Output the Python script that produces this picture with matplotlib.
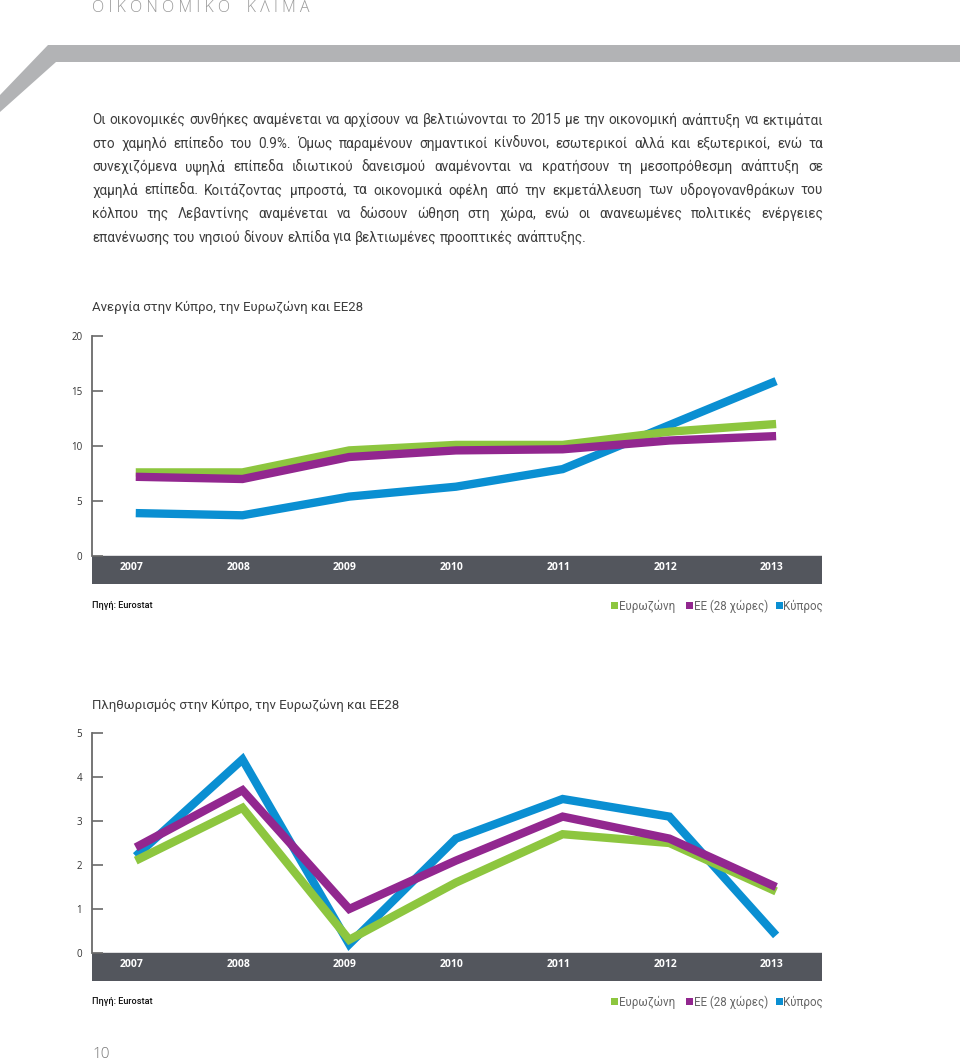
import matplotlib
matplotlib.use("Agg")
import matplotlib.pyplot as plt
from matplotlib.patches import Polygon, Rectangle

# ---------------- data ----------------
years = ['2007', '2008', '2009', '2010', '2011', '2012', '2013']
series_names = ['Ευρωζώνη', 'ΕΕ (28 χώρες)', 'Κύπρος']

unemp_ez = [7.6, 7.6, 9.6, 10.1, 10.1, 11.3, 12.0]
unemp_eu = [7.2, 7.0, 9.0, 9.6, 9.7, 10.5, 10.9]
unemp_cy = [3.9, 3.7, 5.4, 6.3, 7.9, 11.9, 15.9]

infl_ez = [2.1, 3.3, 0.3, 1.6, 2.7, 2.5, 1.4]
infl_eu = [2.4, 3.7, 1.0, 2.1, 3.1, 2.6, 1.5]
infl_cy = [2.2, 4.4, 0.2, 2.6, 3.5, 3.1, 0.4]

unemp_ticks = [0, 5, 10, 15, 20]
infl_ticks = [0, 1, 2, 3, 4, 5]

header = 'Ο Ι Κ Ο Ν Ο Μ Ι Κ Ο    Κ Λ Ι Μ Α'
paragraph = [
    'Οι οικονομικές συνθήκες αναμένεται να αρχίσουν να βελτιώνονται το 2015 με την οικονομική ανάπτυξη να εκτιμάται',
    'στο χαμηλό επίπεδο του 0.9%. Όμως παραμένουν σημαντικοί κίνδυνοι, εσωτερικοί αλλά και εξωτερικοί, ενώ τα',
    'συνεχιζόμενα υψηλά επίπεδα ιδιωτικού δανεισμού αναμένονται να κρατήσουν τη μεσοπρόθεσμη ανάπτυξη σε',
    'χαμηλά επίπεδα. Κοιτάζοντας μπροστά, τα οικονομικά οφέλη από την εκμετάλλευση των υδρογονανθράκων του',
    'κόλπου της Λεβαντίνης αναμένεται να δώσουν ώθηση στη χώρα, ενώ οι ανανεωμένες πολιτικές ενέργειες',
    'επανένωσης του νησιού δίνουν ελπίδα για βελτιωμένες προοπτικές ανάπτυξης.',
]
title1 = 'Ανεργία στην Κύπρο, την Ευρωζώνη και ΕΕ28'
title2 = 'Πληθωρισμός στην Κύπρο, την Ευρωζώνη και ΕΕ28'
source = 'Πηγή: Eurostat'
page_no = '10'

# ---------------- style ----------------
W, H = 960, 1062
C_GREEN = '#8dc63f'
C_PURPLE = '#92278f'
C_BLUE = '#0a8fd2'
C_BAND = '#53565d'
C_TEXT = '#3d3d3d'
colors = [C_GREEN, C_PURPLE, C_BLUE]
zorders = [3, 4, 2]
BODY_FONT = ['Roboto', 'DejaVu Sans']

plt.rcParams['font.family'] = ['Open Sans', 'DejaVu Sans']

fig = plt.figure(figsize=(W / 100, H / 100), dpi=100)
bg = fig.add_axes([0, 0, 1, 1])
bg.set_xlim(0, W)
bg.set_ylim(H, 0)
bg.axis('off')

# header decorations
bg.text(92, 8, header, fontsize=11.5, color='#9a9a9a', va='center', ha='left',
        fontweight='light')
band = Polygon([(0, 95), (48, 45), (W, 45), (W, 62), (56, 62), (0, 112)],
               closed=True, facecolor='#b2b3b5', edgecolor='none')
bg.add_patch(band)

renderer = fig.canvas.get_renderer()
left_x, right_x = 92, 823


def text_width(s, size, family=BODY_FONT):
    t = bg.text(0, 0, s, fontsize=size, family=family)
    w = t.get_window_extent(renderer).width
    t.remove()
    return w


# justified paragraph
size = 10.0
size = size * 724 / text_width(paragraph[0], size)
space_w = text_width('a a', size) - text_width('aa', size)

y0, dy = 120, 23.5
for i, line in enumerate(paragraph):
    words = line.split(' ')
    widths = [text_width(w, size) for w in words]
    if i < len(paragraph) - 1:
        gap = (right_x - left_x - sum(widths)) / (len(words) - 1)
    else:
        gap = space_w
    x = left_x
    for w, wd in zip(words, widths):
        bg.text(x, y0 + i * dy, w, fontsize=size, color=C_TEXT, va='center', ha='left',
                family=BODY_FONT)
        x += wd + gap

title_size = 10.0 * 272 / text_width(title1, 10.0)


def px_axes(left, top, right, bottom):
    return fig.add_axes([left / W, 1 - bottom / H, (right - left) / W, (bottom - top) / H])


def make_chart(top, zero_y, px_per_unit, ticks, data, title, title_y, src_y):
    band_h = 28 / px_per_unit
    ax = px_axes(92, top, 822, zero_y + 28)
    ax.set_ylim(-band_h, ticks[-1])
    ax.set_xlim(-0.41, len(years) - 1 + 0.43)
    ax.axhspan(-band_h, 0, color=C_BAND, zorder=1)
    xs = list(range(len(years)))
    for vals, c, z in zip(data, colors, zorders):
        ax.plot(xs, vals, color=c, lw=6, solid_joinstyle='miter',
                solid_capstyle='butt', zorder=z, clip_on=False)
    for xi, yr in zip(xs, years):
        ax.text(xi - 0.04, -band_h * 0.4, yr, color='white', fontsize=7.5,
                fontweight='bold', ha='center', va='center', zorder=5)
    for s in ['top', 'right', 'bottom']:
        ax.spines[s].set_visible(False)
    ax.spines['left'].set_bounds(0, ticks[-1])
    ax.spines['left'].set_color('#6a6a6a')
    ax.spines['left'].set_linewidth(1.3)
    ax.set_yticks(ticks)
    ax.set_yticklabels([str(t) for t in ticks])
    ax.tick_params(axis='y', direction='in', length=8, width=1.2, color='#6a6a6a',
                   labelsize=7, labelcolor='#333333', pad=7)
    ax.set_xticks([])
    ax.patch.set_visible(False)

    bg.text(92, title_y, title, fontsize=title_size, color=C_TEXT, va='center',
            ha='left', family=BODY_FONT)
    bg.text(92, src_y, source, fontsize=6.6, color='#111111', va='center', ha='left',
            family=BODY_FONT, fontweight='medium')
    # legend
    lx = [611, 686, 776]
    for x, c, n in zip(lx, colors, series_names):
        bg.add_patch(Rectangle((x, src_y - 4), 7, 7, facecolor=c, edgecolor='none'))
        bg.text(x + 7.5, src_y, n, fontsize=8.3, color='#666666', va='center', ha='left',
                family=BODY_FONT)
    return ax


make_chart(336, 556, 11, unemp_ticks, [unemp_ez, unemp_eu, unemp_cy], title1, 307, 606)
make_chart(733, 953, 44, infl_ticks, [infl_ez, infl_eu, infl_cy], title2, 705, 1002)

bg.text(92, 1054, page_no, fontsize=11, color='#777777', va='center', ha='left',
        fontweight='light')

fig.savefig('out.png', dpi=100)
